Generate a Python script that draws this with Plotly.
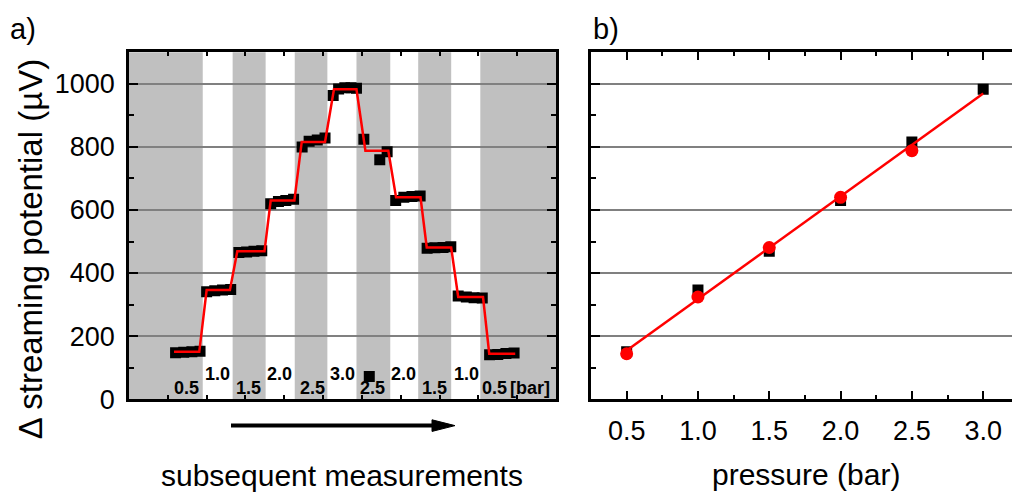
import numpy as np
import plotly.graph_objects as go

# ---------------- panel a: stepwise pressure sequence ----------------
step_pressure = [0.5, 1.0, 1.5, 2.0, 2.5, 3.0, 2.5, 2.0, 1.5, 1.0, 0.5]
step_start = [11.6, 20.0, 27.9, 36.5, 44.5, 52.8, 60.9, 68.8, 76.7, 84.8, 92.8]
step_end = [18.1, 26.0, 34.9, 42.6, 50.5, 58.6, 66.8, 75.1, 83.0, 91.2, 99.5]
step_level = [150, 346, 469, 630, 816, 983, 788, 640, 481, 324, 144]

# alternating grey / white bands, one per pressure step
band_edges = [0, 19.0, 26.7, 35.2, 42.7, 51.1, 58.6, 67.3, 74.5, 83.0, 90.5, 110]

# individual measurements (time, streaming potential in uV)
meas_t = [12.0, 14.1, 16.2, 18.3,
          20.0, 22.1, 24.1, 26.2,
          28.3, 30.3, 32.2, 34.2,
          36.5, 38.5, 40.4, 42.4,
          44.6, 46.4, 48.5, 50.5,
          52.6, 54.0, 55.6, 57.2, 58.6,
          60.5, 61.9, 64.6, 66.5,
          68.7, 70.8, 72.9, 75.0,
          76.8, 78.8, 80.9, 82.9,
          84.8, 86.9, 88.9, 91.0,
          92.9, 95.0, 97.1, 99.2]
meas_v = [147, 149, 150, 152,
          341, 344, 346, 348,
          465, 467, 469, 471,
          620, 627, 630, 634,
          800, 818, 822, 828,
          963, 984, 988, 988, 986,
          824, 72, 759, 785,
          630, 640, 643, 644,
          479, 480, 481, 483,
          327, 324, 322, 321,
          141, 142, 145, 146]

# pressure annotations inside the bands
label_t = [14.8, 22.9, 30.8, 38.7, 47.2, 54.9, 62.7, 70.8, 78.8, 86.9, 94.2]
label_v = [36, 79, 36, 79, 36, 79, 36, 79, 36, 79, 36]

# ---------------- panel b: potential vs pressure ----------------
n_up = 6
p_up = step_pressure[:n_up]
v_up = step_level[:n_up]
p_down = step_pressure[n_up:]
v_down = step_level[n_up:]

p_all = np.array(p_up + p_down)
v_all = np.array(v_up + v_down)
slope, intercept = np.polyfit(p_all, v_all, 1)
fit_p = np.array([min(p_up), max(p_up)])
fit_v = slope * fit_p + intercept

# ---------------- figure ----------------
W, H = 1012, 492
FONT = "Liberation Sans, Arial, sans-serif"
RED = "#ff0000"
GRID = "#808080"


def px(x):
    return x / W


def py(y):
    return 1 - y / H


y_dom = [py(411.7), py(54)]

fig = go.Figure()

# red step line through the pressure plateaus
line_t, line_v = [], []
for s, e, lv in zip(step_start, step_end, step_level):
    line_t += [s, e]
    line_v += [lv, lv]

fig.add_trace(go.Scatter(
    x=meas_t, y=meas_v, mode="markers",
    marker=dict(symbol="square", size=11, color="black", line=dict(width=0)),
    xaxis="x", yaxis="y", showlegend=False, hoverinfo="skip"))
fig.add_trace(go.Scatter(
    x=line_t, y=line_v, mode="lines",
    line=dict(color=RED, width=2.5),
    xaxis="x", yaxis="y", showlegend=False, hoverinfo="skip"))

# panel b traces
fig.add_trace(go.Scatter(
    x=p_up, y=v_up, mode="markers",
    marker=dict(symbol="square", size=11, color="black", line=dict(width=0)),
    xaxis="x2", yaxis="y2", showlegend=False, hoverinfo="skip"))
fig.add_trace(go.Scatter(
    x=fit_p, y=fit_v, mode="lines",
    line=dict(color=RED, width=2.5),
    xaxis="x2", yaxis="y2", showlegend=False, hoverinfo="skip"))
fig.add_trace(go.Scatter(
    x=p_down, y=v_down, mode="markers",
    marker=dict(symbol="circle", size=13, color=RED, line=dict(width=0)),
    xaxis="x2", yaxis="y2", showlegend=False, hoverinfo="skip"))

# grey bands (every other interval)
shapes = []
for i in range(0, len(band_edges) - 1, 2):
    shapes.append(dict(
        type="rect", xref="x", yref="y domain",
        x0=band_edges[i], x1=band_edges[i + 1], y0=0, y1=1,
        fillcolor="#c0c0c0", line=dict(width=0), layer="below"))

# time arrow under panel a
arrow_y = 439
shapes.append(dict(type="line", xref="paper", yref="paper",
                   x0=px(231), x1=px(436), y0=py(arrow_y), y1=py(arrow_y),
                   line=dict(color="black", width=4)))
shapes.append(dict(type="path", xref="paper", yref="paper",
                   path=(f"M {px(432)} {py(arrow_y - 6)} "
                         f"L {px(455)} {py(arrow_y)} "
                         f"L {px(432)} {py(arrow_y + 6)} Z"),
                   fillcolor="black", line=dict(color="black", width=1)))

annotations = []
LABEL_FONT = dict(family=FONT, size=18, color="black")
for t, v, p in zip(label_t, label_v, step_pressure):
    annotations.append(dict(
        x=t, y=v, xref="x", yref="y", text=f"<b>{p:.1f}</b>",
        showarrow=False, font=LABEL_FONT,
        xanchor="center", yanchor="middle"))
annotations.append(dict(
    x=label_t[-1] + 3.4, y=label_v[-1], xref="x", yref="y", text="<b>[bar]</b>",
    showarrow=False, font=LABEL_FONT,
    xanchor="left", yanchor="middle"))

# panel letters
for txt, x in (("a)", 8), ("b)", 591)):
    annotations.append(dict(
        x=px(x), y=py(30), xref="paper", yref="paper", text=txt,
        showarrow=False, font=dict(family=FONT, size=29, color="black"),
        xanchor="left", yanchor="middle"))

TITLE_FONT = dict(family=FONT, size=30, color="black")
annotations.append(dict(
    x=px(30), y=py(257), xref="paper", yref="paper",
    text="\u0394 streaming potential (\u00b5V)", textangle=-90,
    showarrow=False, font=dict(family=FONT, size=33, color="black"),
    xanchor="center", yanchor="middle"))
annotations.append(dict(
    x=px(342), y=py(490), xref="paper", yref="paper",
    text="subsequent measurements",
    showarrow=False, font=TITLE_FONT,
    xanchor="center", yanchor="middle"))
annotations.append(dict(
    x=px(806), y=py(489), xref="paper", yref="paper",
    text="pressure (bar)",
    showarrow=False, font=TITLE_FONT,
    xanchor="center", yanchor="middle"))

frame = dict(showline=True, linecolor="black", linewidth=2.5,
             zeroline=False, ticks="inside", tickcolor="black", tickwidth=2)
tick_font = dict(family=FONT, size=27, color="black")

fig.update_layout(
    width=W, height=H,
    margin=dict(l=0, r=0, t=0, b=0),
    paper_bgcolor="white", plot_bgcolor="white",
    font=dict(family=FONT, color="black"),
    shapes=shapes, annotations=annotations,
    xaxis=dict(domain=[px(129), px(556)], range=[0, 110], anchor="y",
               tick0=0, dtick=10, ticklen=4, showticklabels=False,
               showgrid=False, mirror="ticks", **frame),
    yaxis=dict(domain=y_dom, range=[0, 1100], anchor="x",
               tick0=0, dtick=200, ticklen=9,
               minor=dict(ticks="inside", dtick=100, ticklen=5,
                          tickwidth=2, tickcolor="black", showgrid=False),
               showgrid=True, gridcolor=GRID, gridwidth=1.5,
               tickfont=tick_font, ticklabelstandoff=6,
               mirror="ticks", **frame),
    xaxis2=dict(domain=[px(591), 1.0], range=[0.25, 3.202], anchor="y2",
                tick0=0.5, dtick=0.5, ticklen=8, tickformat=".1f",
                minor=dict(ticks="inside", dtick=0.25, ticklen=4,
                           tickwidth=2, tickcolor="black", showgrid=False),
                showgrid=False, mirror="ticks",
                tickfont=tick_font, ticklabelstandoff=6, **frame),
    yaxis2=dict(domain=y_dom, range=[0, 1100], anchor="x2",
                tick0=0, dtick=200, ticklen=9,
                minor=dict(ticks="inside", dtick=100, ticklen=5,
                           tickwidth=2, tickcolor="black", showgrid=False),
                showgrid=True, gridcolor=GRID, gridwidth=1.5,
                showticklabels=False, mirror=False, **frame),
)

fig.write_html("out.html")
